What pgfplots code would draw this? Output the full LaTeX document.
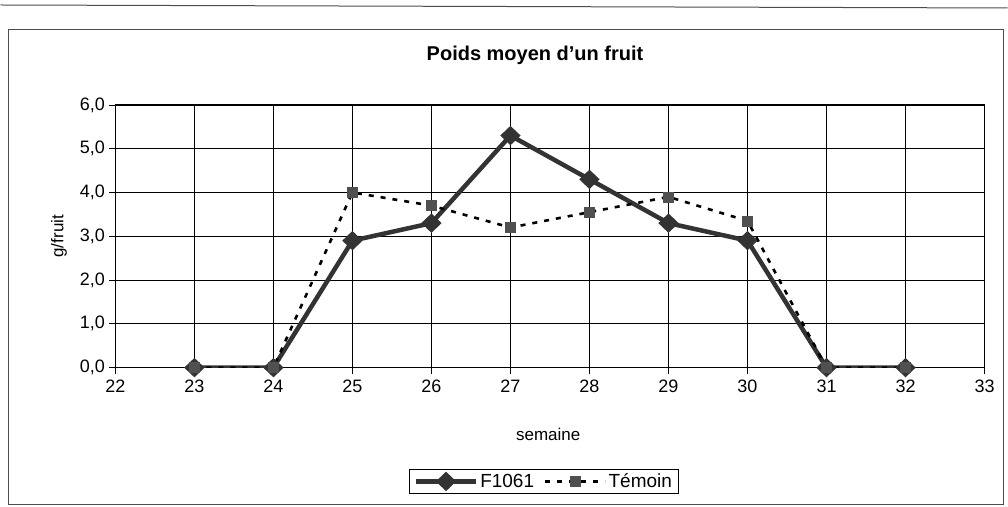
\documentclass[border=0pt]{standalone}
\usepackage{fontspec}
\setmainfont{Liberation Sans}
\usepackage{pgfplots}
\pgfplotsset{compat=1.18}
\definecolor{fline}{HTML}{333333}
\definecolor{tmark}{HTML}{505050}
\begin{document}
\begin{tikzpicture}[x=1pt,y=1pt]
\path (0,0) rectangle (1008,507);
\draw[line width=1pt, black!70] (8,2) rectangle (1004,477);
\draw[line width=1pt, black!70] (0,502) -- (1008,499);
\node[font=\fontsize{20}{24}\selectfont\bfseries] at (535,452) {Poids moyen d'un fruit};
\begin{axis}[
  at={(115pt,139pt)}, anchor=south west,
  scale only axis, width=870pt, height=263pt,
  xmin=22, xmax=33, ymin=0, ymax=6,
  xtick={22,...,33},
  xticklabels={22,23,24,25,26,27,28,29,30,31,32,33},
  ytick={0,1,2,3,4,5,6},
  yticklabels={{0,0},{1,0},{2,0},{3,0},{4,0},{5,0},{6,0}},
  grid=major,
  grid style={black, line width=0.8pt},
  axis line style={black, line width=1pt},
  tick style={black, line width=0.8pt},
  tick align=outside, major tick length=6pt,
  xtick pos=bottom, ytick pos=left,
  tick label style={font=\fontsize{18}{21}\selectfont},
  xticklabel style={yshift=-3pt},
  yticklabel style={xshift=-1pt},
  xlabel={semaine}, ylabel={g/fruit},
  label style={font=\fontsize{17}{20}\selectfont},
  xlabel style={at={(0.498,-0.255)}, anchor=center},
  ylabel style={at={(-0.065,0.5)}, anchor=center},
  legend image code/.code={\draw[mark repeat=2,mark phase=2,#1] plot coordinates {(0pt,0pt) (30pt,0pt) (60pt,0pt)};},
  legend style={at={(0.493,-0.433)}, anchor=center, legend columns=2,
    draw=black, line width=0.8pt, font=\fontsize{19}{22}\selectfont,
    inner xsep=4pt, inner ysep=2pt,
    /tikz/every even column/.append style={column sep=8pt}},
]
\addplot[color=fline, line width=4.5pt, mark=diamond*, mark size=9pt,
  mark options={fill=fline, solid, line width=1pt, xscale=1.4}]
  coordinates {(23,0) (24,0) (25,2.9) (26,3.3) (27,5.3) (28,4.3) (29,3.3) (30,2.9) (31,0) (32,0)};
\addlegendentry{F1061}
\addplot[color=black, line width=2.6pt, dash pattern=on 5pt off 7pt, mark=square*, mark size=5pt,
  mark options={fill=tmark, draw=tmark, solid, line width=0.5pt}]
  coordinates {(23,0) (24,0) (25,4.0) (26,3.7) (27,3.2) (28,3.55) (29,3.9) (30,3.35) (31,0) (32,0)};
\addlegendentry{Témoin}
\end{axis}
\end{tikzpicture}
\end{document}
